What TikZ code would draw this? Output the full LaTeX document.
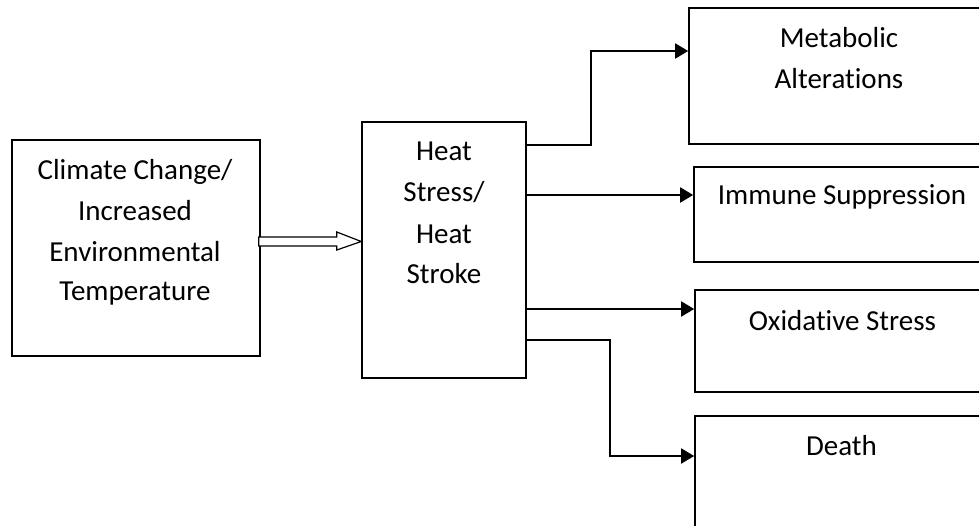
\documentclass[tikz,border=0pt]{standalone}
\usepackage{fontspec}
\setmainfont[Ligatures={NoCommon}]{Carlito}
\usetikzlibrary{arrows.meta,calc}
\begin{document}
\begin{tikzpicture}[x=1pt,y=-1pt,
  box/.style={draw,line width=1.6pt,rectangle,inner sep=0pt},
  txt/.style={anchor=base,inner sep=0pt,font=\fontsize{29}{34}\selectfont},
  arr/.style={line width=1.9pt,-{Triangle[length=13pt,width=15pt]}}]
\useasboundingbox[fill=white] (0,0) rectangle (979,525);
% boxes
\node[box,minimum width=248pt,minimum height=216pt] (cc) at (136,248) {};
\node[box,minimum width=164pt,minimum height=256pt] (heat) at (444,250) {};
\node[box,minimum width=301pt,minimum height=136pt] (met) at (839.5,76) {};
\node[box,minimum width=296pt,minimum height=95pt] (imm) at (842,214.5) {};
\node[box,minimum width=295pt,minimum height=102pt] (oxi) at (842.5,341) {};
\node[box,minimum width=295pt,minimum height=124pt] (dea) at (842.5,478) {};
% texts
\node[txt] (cc1) at (135,179) {Climate Change/};
\node[txt] (cc2) at (135,220) {Increased};
\node[txt] (cc3) at (135,261) {Environmental};
\node[txt] (cc4) at (135,300) {Temperature};
\node[txt] (h1) at (444,160) {Heat};
\node[txt] (h2) at (444,201) {Stress/};
\node[txt] (h3) at (444,243) {Heat};
\node[txt] (h4) at (444,283) {Stroke};
\node[txt] (m1) at (839,47) {Metabolic};
\node[txt] (m2) at (839,88) {Alterations};
\node[txt] (i1) at (842,204) {Immune Suppression};
\node[txt] (o1) at (842.5,330) {Oxidative Stress};
\node[txt] (d1) at (841.5,455) {Death};
% hollow arrow
\draw[line width=1.2pt,fill=white,line join=miter]
  ($(cc.east)+(-2,-11)$) -- ($(cc.east)+(76,-11)$) -- ($(cc.east)+(76,-16)$)
  -- ($(heat.west)+(0,-8.5)$) -- ($(cc.east)+(76,2)$) -- ($(cc.east)+(76,-2)$)
  -- ($(cc.east)+(-2,-2)$) -- cycle;
% connectors
\draw[arr] (heat.east |- 0,145) -- (591,145) -- (591,51) -- (met.west |- 0,51);
\draw[arr] (heat.east |- 0,195) -- (imm.west |- 0,195);
\draw[arr] (heat.east |- 0,309) -- (oxi.west |- 0,309);
\draw[arr] (heat.east |- 0,340) -- (610,340) -- (610,456) -- (dea.west |- 0,456);
\end{tikzpicture}
\end{document}
